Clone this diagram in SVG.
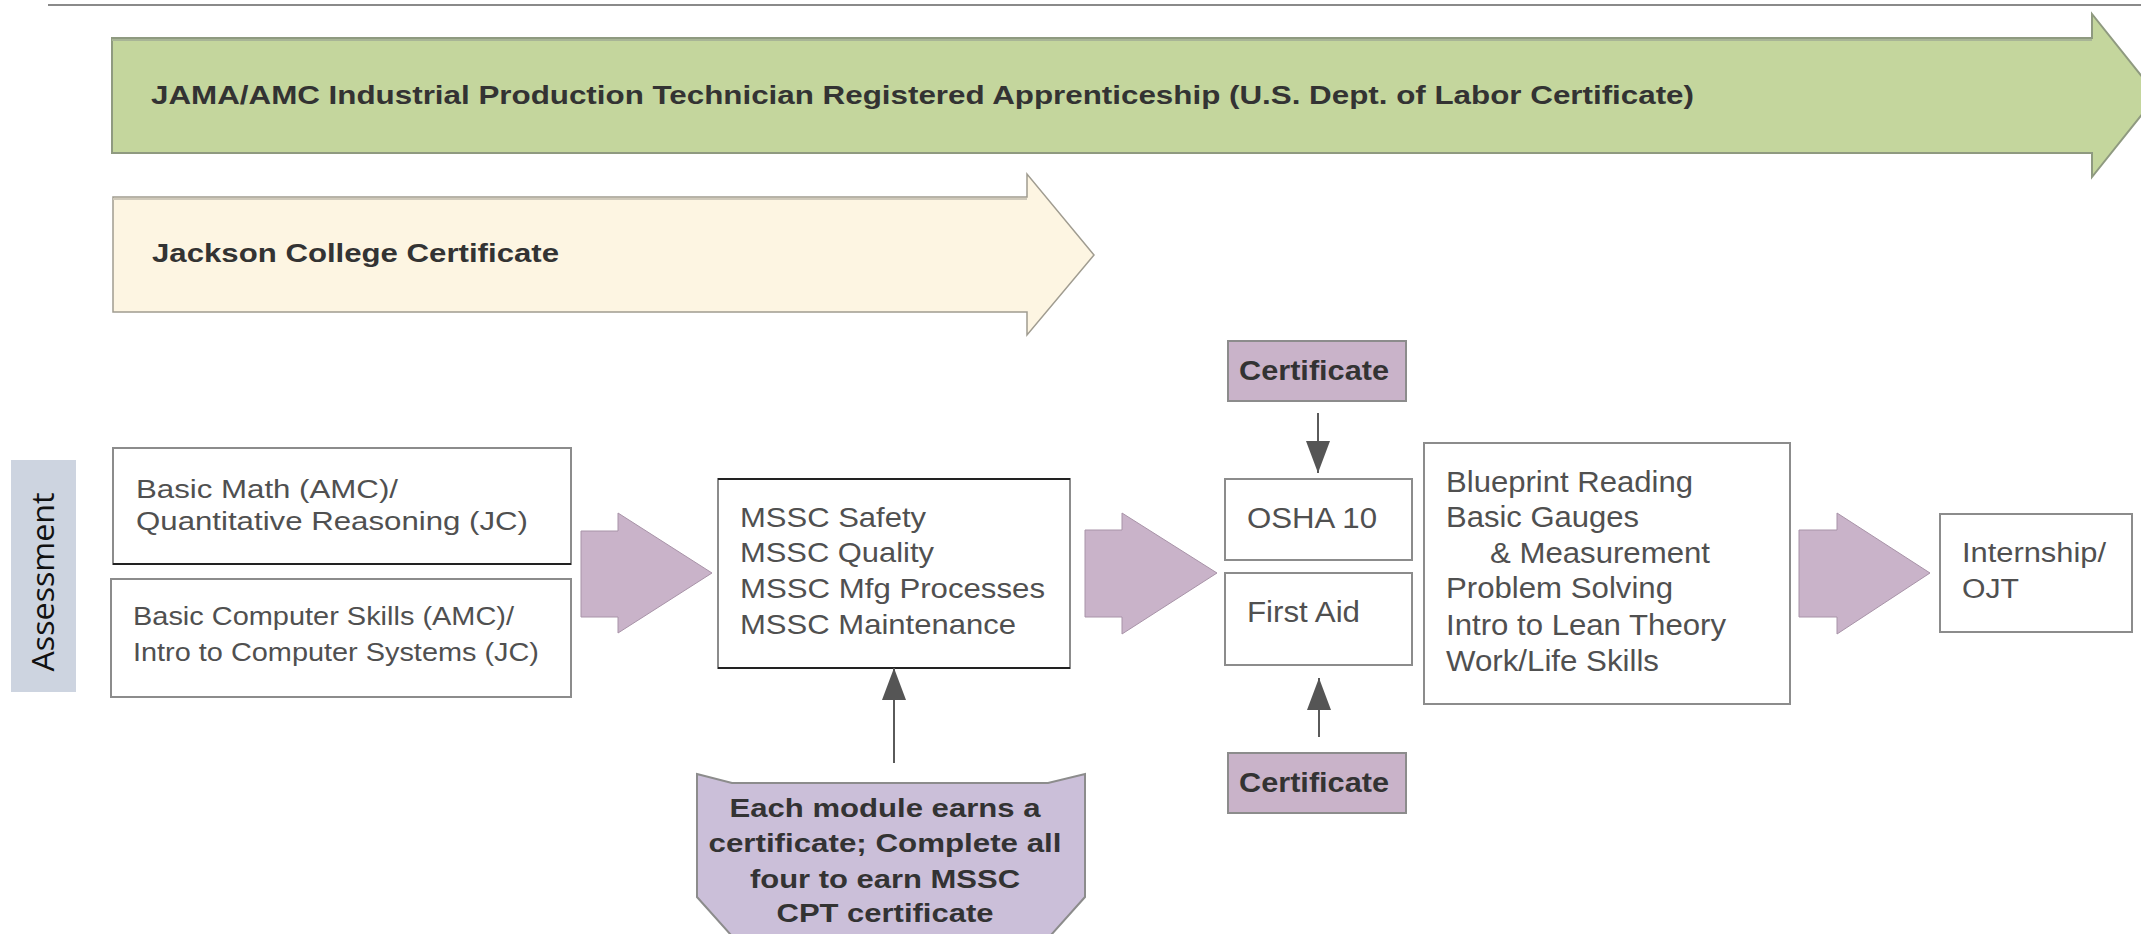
<svg xmlns="http://www.w3.org/2000/svg" width="2141" height="934" viewBox="0 0 2141 934">
<style>
.box{fill:#ffffff;stroke:#8c8c8c;stroke-width:2}
.t{font-family:"Liberation Sans",Arial,sans-serif;fill:#505050}
.b{font-family:"Liberation Sans",Arial,sans-serif;font-weight:bold;fill:#333333}
.blk{fill:#c9b3c9;stroke:#a893a8;stroke-width:1}
.cert{fill:#c9b3c9;stroke:#8c8c8c;stroke-width:2}
.conn{stroke:#5a5a5a;stroke-width:2;fill:none}
</style>
<defs>
<marker id="ah" markerUnits="userSpaceOnUse" viewBox="0 0 32 24" markerWidth="32" markerHeight="24" refX="32" refY="12" orient="auto">
<path d="M0,0 L32,12 L0,24 z" fill="#555555"/>
</marker>
</defs>
<line x1="48" y1="5" x2="2141" y2="5" stroke="#8a8a8a" stroke-width="2"/>
<g id="apprenticeship">
<polygon points="112,38 2092,38 2092,14 2157,95.5 2092,177 2092,153 112,153" fill="#c4d69d" stroke="#8f9a80" stroke-width="2"/>
<line x1="112" y1="40" x2="2092" y2="40" stroke="#a8b596" stroke-width="2"/>
<text class="b" x="151" y="104" font-size="25" textLength="1543" lengthAdjust="spacingAndGlyphs">JAMA/AMC Industrial Production Technician Registered Apprenticeship (U.S. Dept. of Labor Certificate)</text>
</g>
<g id="jackson">
<polygon points="113,197 1027,197 1027,174 1094,255 1027,335 1027,312 113,312" fill="#fdf5e2" stroke="#a09c90" stroke-width="1.5"/>
<line x1="113" y1="199" x2="1027" y2="199" stroke="#cfc9ba" stroke-width="2"/>
<text class="b" x="152" y="262" font-size="26" textLength="407" lengthAdjust="spacingAndGlyphs">Jackson College Certificate</text>
</g>
<g id="assessment">
<rect x="11" y="460" width="65" height="232" fill="#cdd4e0"/>
<text x="0" y="0" transform="translate(54,582) rotate(-90)" text-anchor="middle" font-family="'Open Sans','Liberation Sans',sans-serif" font-size="31" fill="#111111" textLength="179" lengthAdjust="spacingAndGlyphs">Assessment</text>
</g>
<g id="math">
<rect class="box" x="113" y="448" width="458" height="116"/>
<line x1="113" y1="564" x2="571" y2="564" stroke="#222222" stroke-width="2"/>
<text class="t" x="136" y="498" font-size="26" textLength="262" lengthAdjust="spacingAndGlyphs">Basic Math (AMC)/</text>
<text class="t" x="136" y="530" font-size="26" textLength="392" lengthAdjust="spacingAndGlyphs">Quantitative Reasoning (JC)</text>
</g>
<g id="computer">
<rect class="box" x="111" y="579" width="460" height="118"/>
<text class="t" x="133" y="625" font-size="26" textLength="381" lengthAdjust="spacingAndGlyphs">Basic Computer Skills (AMC)/</text>
<text class="t" x="133" y="661" font-size="26" textLength="406" lengthAdjust="spacingAndGlyphs">Intro to Computer Systems (JC)</text>
</g>
<g id="mssc">
<rect class="box" x="718" y="479" width="352" height="189"/>
<line x1="718" y1="479" x2="1070" y2="479" stroke="#222222" stroke-width="2"/>
<line x1="718" y1="668" x2="1070" y2="668" stroke="#222222" stroke-width="2"/>
<text class="t" x="740" y="527" font-size="28" textLength="186" lengthAdjust="spacingAndGlyphs">MSSC Safety</text>
<text class="t" x="740" y="562" font-size="28" textLength="194" lengthAdjust="spacingAndGlyphs">MSSC Quality</text>
<text class="t" x="740" y="598" font-size="28" textLength="305" lengthAdjust="spacingAndGlyphs">MSSC Mfg Processes</text>
<text class="t" x="740" y="634" font-size="28" textLength="276" lengthAdjust="spacingAndGlyphs">MSSC Maintenance</text>
</g>
<g id="callout">
<polygon points="697,774 732,783 1048,783 1085,774 1085,897 891,1114 697,897" fill="#cbbfd9" stroke="#8c8c8c" stroke-width="2"/>
<text class="b" x="885" y="817" font-size="25" text-anchor="middle" textLength="311" lengthAdjust="spacingAndGlyphs">Each module earns a</text>
<text class="b" x="885" y="852" font-size="25" text-anchor="middle" textLength="353" lengthAdjust="spacingAndGlyphs">certificate; Complete all</text>
<text class="b" x="885" y="888" font-size="25" text-anchor="middle" textLength="270" lengthAdjust="spacingAndGlyphs">four to earn MSSC</text>
<text class="b" x="885" y="922" font-size="25" text-anchor="middle" textLength="217" lengthAdjust="spacingAndGlyphs">CPT certificate</text>
</g>
<g id="cert-top">
<rect class="cert" x="1228" y="341" width="178" height="60"/>
<text class="b" x="1239" y="380" font-size="27" textLength="150" lengthAdjust="spacingAndGlyphs">Certificate</text>
</g>
<g id="osha">
<rect class="box" x="1225" y="479" width="187" height="81"/>
<text class="t" x="1247" y="528" font-size="29" textLength="130" lengthAdjust="spacingAndGlyphs">OSHA 10</text>
</g>
<g id="firstaid">
<rect class="box" x="1225" y="573" width="187" height="92"/>
<text class="t" x="1247" y="622" font-size="29" textLength="113" lengthAdjust="spacingAndGlyphs">First Aid</text>
</g>
<g id="cert-bottom">
<rect class="cert" x="1228" y="753" width="178" height="60"/>
<text class="b" x="1239" y="792" font-size="27" textLength="150" lengthAdjust="spacingAndGlyphs">Certificate</text>
</g>
<g id="blueprint">
<rect class="box" x="1424" y="443" width="366" height="261"/>
<text class="t" x="1446" y="492" font-size="29" textLength="247" lengthAdjust="spacingAndGlyphs">Blueprint Reading</text>
<text class="t" x="1446" y="527" font-size="29" textLength="193" lengthAdjust="spacingAndGlyphs">Basic Gauges</text>
<text class="t" x="1490" y="563" font-size="29" textLength="220" lengthAdjust="spacingAndGlyphs">&amp; Measurement</text>
<text class="t" x="1446" y="598" font-size="29" textLength="227" lengthAdjust="spacingAndGlyphs">Problem Solving</text>
<text class="t" x="1446" y="635" font-size="29" textLength="280" lengthAdjust="spacingAndGlyphs">Intro to Lean Theory</text>
<text class="t" x="1446" y="671" font-size="29" textLength="213" lengthAdjust="spacingAndGlyphs">Work/Life Skills</text>
</g>
<g id="internship">
<rect class="box" x="1940" y="514" width="192" height="118"/>
<text class="t" x="1962" y="562" font-size="27" textLength="144" lengthAdjust="spacingAndGlyphs">Internship/</text>
<text class="t" x="1962" y="598" font-size="27" textLength="57" lengthAdjust="spacingAndGlyphs">OJT</text>
</g>
<g id="connectors">
<polygon class="blk" points="581,531 618,531 618,513 712,573 618,633 618,617 581,617"/>
<polygon class="blk" points="1085,530 1122,530 1122,513 1217,573 1122,634 1122,617 1085,617"/>
<polygon class="blk" points="1799,530 1837,530 1837,513 1930,573 1837,634 1837,617 1799,617"/>
<line class="conn" x1="894" y1="763" x2="894" y2="668" marker-end="url(#ah)"/>
<line class="conn" x1="1318" y1="413" x2="1318" y2="473" marker-end="url(#ah)"/>
<line class="conn" x1="1319" y1="737" x2="1319" y2="678" stroke="#8a8a8a" marker-end="url(#ah)"/>
</g>
</svg>
